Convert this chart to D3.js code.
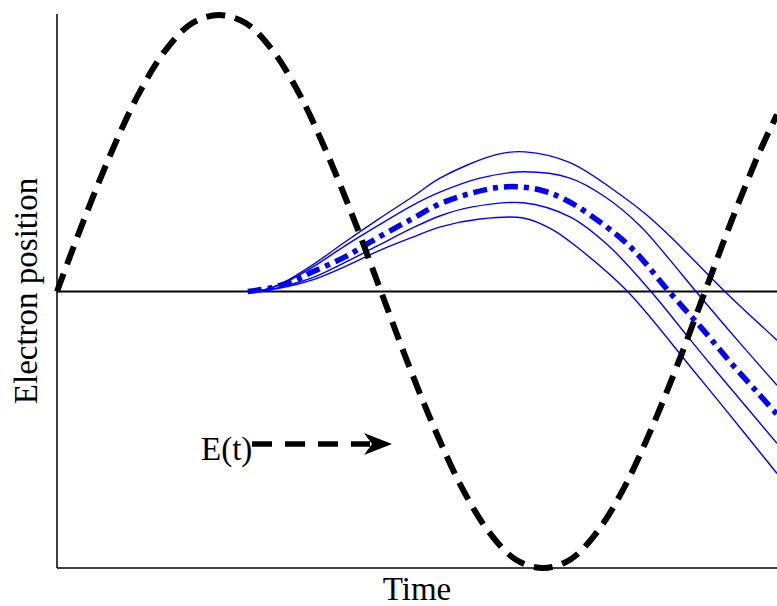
<!DOCTYPE html>
<html>
<head>
<meta charset="utf-8">
<script src="https://cdn.jsdelivr.net/npm/d3@7"></script>
<style>
  body { margin: 0; background: #fff; }
  text { font-family: "Liberation Serif", "Times New Roman", serif; fill: #000; }
</style>
</head>
<body>
<div id="chart"></div>
<script>
// phase of the field (degrees) and field value E(t)
const ePhase = [0, 15, 30, 45, 60, 75, 90, 105, 120, 135, 150, 165, 180, 195, 210, 225, 240, 255, 270, 285, 300, 315, 330, 345, 360, 375, 390, 400];
const eField = [0, 0.26, 0.5, 0.71, 0.87, 0.97, 1, 0.97, 0.87, 0.71, 0.5, 0.26, 0, -0.26, -0.5, -0.71, -0.87, -0.97, -1, -0.97, -0.87, -0.71, -0.5, -0.26, 0, 0.26, 0.5, 0.64];

// electron trajectories [phase, position]
const trajCenter = [[106, 0], [118, 0.012], [130, 0.035], [142, 0.071], [160, 0.125], [178, 0.194], [197, 0.262], [213, 0.318], [231, 0.357], [250, 0.379], [268, 0.368], [283, 0.33], [303, 0.245], [320, 0.152], [340, 0], [359, -0.139], [374, -0.255], [389, -0.364], [400, -0.444]];
const trajTop    = [[107, 0], [115, 0.006], [123, 0.024], [132, 0.055], [142, 0.096], [160, 0.179], [178, 0.259], [199, 0.349], [213, 0.411], [244, 0.495], [260, 0.505], [285, 0.466], [313, 0.35], [327, 0.28], [341, 0.197], [371, 0], [400, -0.176]];
const trajUpper  = [[107, 0], [115, 0.006], [123, 0.022], [132, 0.05], [142, 0.088], [160, 0.165], [178, 0.237], [197, 0.31], [213, 0.36], [235, 0.41], [259, 0.433], [285, 0.41], [305, 0.34], [324, 0.237], [340, 0.118], [355, 0], [378, -0.176], [400, -0.339]];
const trajLower  = [[107, 0], [117, 0.006], [128, 0.022], [142, 0.05], [160, 0.105], [178, 0.165], [197, 0.228], [213, 0.274], [230, 0.305], [259, 0.321], [285, 0.27], [306, 0.168], [330, 0], [352, -0.176], [368, -0.302], [400, -0.549]];
const trajBottom = [[107, 0], [117, 0.005], [128, 0.018], [142, 0.042], [160, 0.09], [178, 0.145], [197, 0.195], [213, 0.234], [235, 0.262], [259, 0.266], [275, 0.225], [291, 0.15], [317, 0], [352, -0.273], [368, -0.4], [400, -0.658]];

const W = 777, H = 606;
const margin = {top: 15, right: 0, bottom: 38, left: 57};

const svg = d3.select("#chart").append("svg")
  .attr("width", W)
  .attr("height", H);

const x = d3.scaleLinear().domain([0, 400]).range([margin.left, W - margin.right]);
const y = d3.scaleLinear().domain([-1, 1]).range([H - margin.bottom, margin.top]);

// axes frame: left and bottom lines only, no ticks
svg.append("line")
  .attr("x1", x(0)).attr("x2", x(0))
  .attr("y1", y(1) - 1).attr("y2", y(-1))
  .attr("stroke", "#000").attr("stroke-width", 1.5);
svg.append("line")
  .attr("x1", x(0)).attr("x2", x(400))
  .attr("y1", y(-1)).attr("y2", y(-1))
  .attr("stroke", "#000").attr("stroke-width", 1.5);
// zero line
svg.append("line")
  .attr("x1", x(0)).attr("x2", x(400))
  .attr("y1", y(0)).attr("y2", y(0))
  .attr("stroke", "#000").attr("stroke-width", 2.2);

const line = d3.line()
  .x(d => x(d[0]))
  .y(d => y(d[1]))
  .curve(d3.curveCatmullRom);

// thin trajectories
[trajTop, trajUpper, trajLower, trajBottom].forEach(tr => {
  svg.append("path")
    .attr("d", line(tr))
    .attr("fill", "none")
    .attr("stroke", "#0000ff")
    .attr("stroke-width", 1.4);
});

// central trajectory, dash-dot
svg.append("path")
  .attr("d", line(trajCenter))
  .attr("fill", "none")
  .attr("stroke", "#0000ff")
  .attr("stroke-width", 5.5)
  .attr("stroke-dasharray", "14,6,5,6");

// field E(t)
svg.append("path")
  .attr("d", line(d3.zip(ePhase, eField)))
  .attr("fill", "none")
  .attr("stroke", "#000")
  .attr("stroke-width", 6)
  .attr("stroke-dasharray", "19,10");

// E(t) label with dashed arrow
const ax0 = 252, ax1 = 392, ay = 444;
svg.append("text")
  .attr("x", 201).attr("y", 460)
  .attr("font-size", 33)
  .text("E(t)");
svg.append("line")
  .attr("x1", ax0).attr("x2", ax1 - 22)
  .attr("y1", ay).attr("y2", ay)
  .attr("stroke", "#000").attr("stroke-width", 5.5)
  .attr("stroke-dasharray", "20,13");
svg.append("path")
  .attr("d", `M${ax1},${ay} L${ax1 - 28},${ay - 11} L${ax1 - 20},${ay} L${ax1 - 28},${ay + 11} Z`)
  .attr("fill", "#000");

// axis titles
svg.append("text")
  .attr("x", 417).attr("y", 600)
  .attr("text-anchor", "middle")
  .attr("font-size", 33)
  .text("Time");
svg.append("text")
  .attr("transform", "translate(37,291) rotate(-90)")
  .attr("text-anchor", "middle")
  .attr("font-size", 33)
  .text("Electron position");
</script>
</body>
</html>
